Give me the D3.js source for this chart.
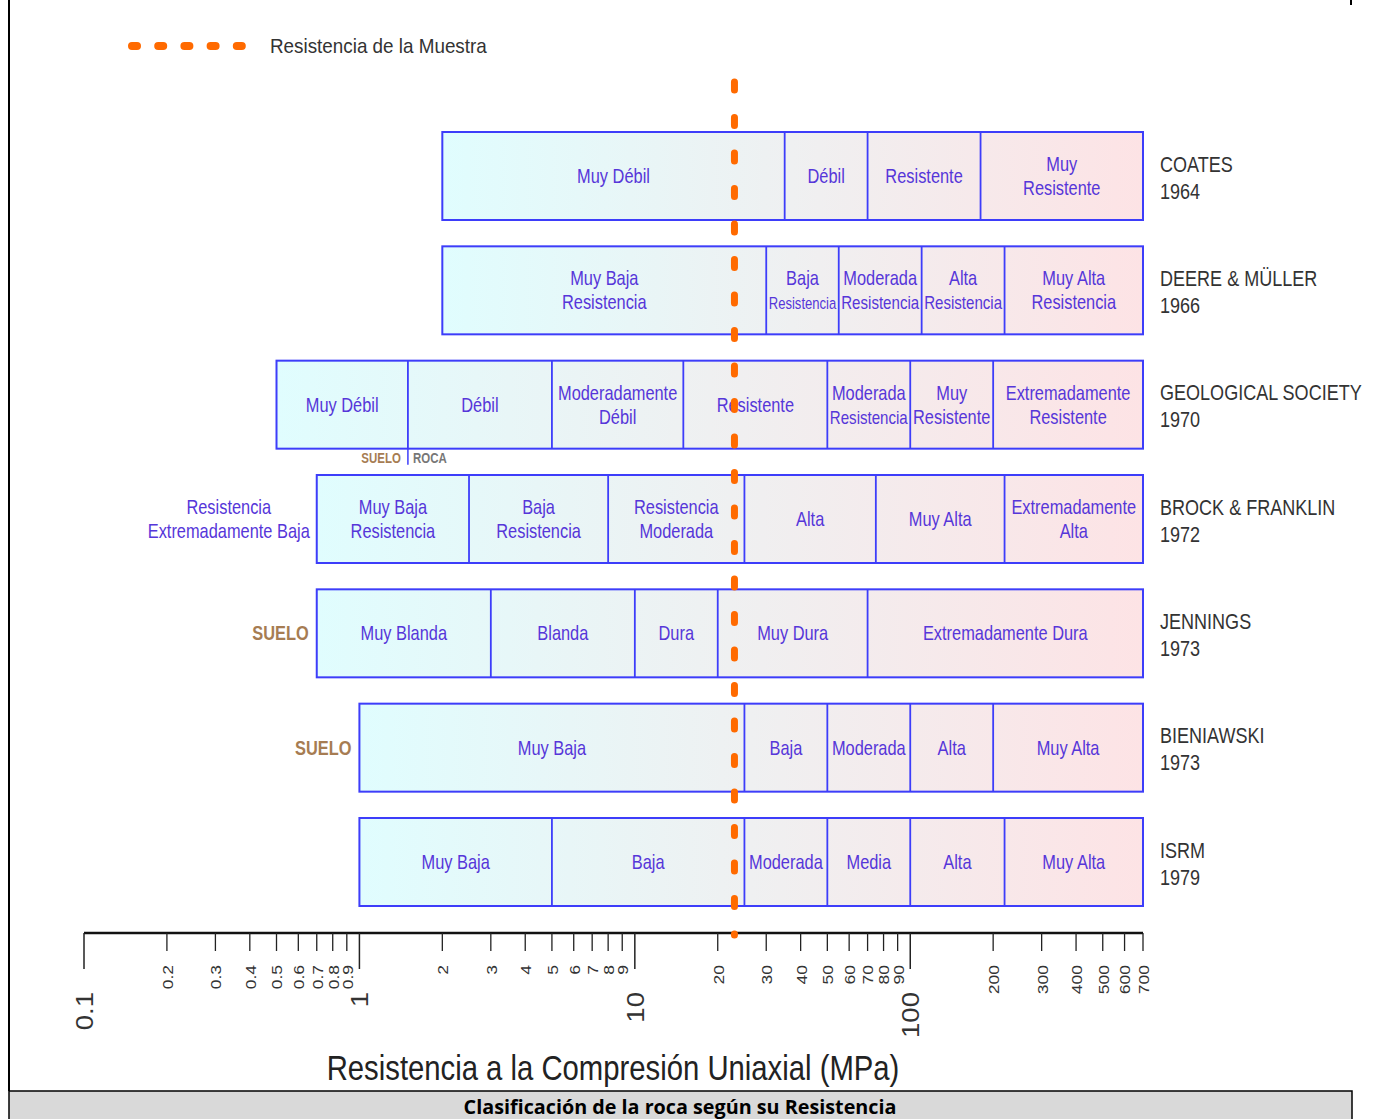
<!DOCTYPE html>
<html>
<head>
<meta charset="utf-8">
<script src="https://cdn.jsdelivr.net/npm/d3@7"></script>
<style>
  body { margin: 0; background: #fff; }
  svg { display: block; }
</style>
</head>
<body>
<div id="chart"></div>
<script>
// Classification schemes, top to bottom
const schemes = ["COATES", "DEERE & MÜLLER", "GEOLOGICAL SOCIETY", "BROCK & FRANKLIN", "JENNINGS", "BIENIAWSKI", "ISRM"];
const years = ["1964", "1966", "1970", "1972", "1973", "1973", "1979"];

// class limits (MPa) for each scheme
const bounds = [
  [2, 35, 70, 180, 700],
  [2, 30, 55, 110, 220, 700],
  [0.5, 1.5, 5, 15, 50, 100, 200, 700],
  [0.7, 2.5, 8, 25, 75, 220, 700],
  [0.7, 3, 10, 20, 70, 700],
  [1, 25, 50, 100, 200, 700],
  [1, 5, 25, 50, 100, 220, 700]
];

const classNames = [
  ["Muy Débil", "Débil", "Resistente", "Muy\nResistente"],
  ["Muy Baja\nResistencia", "Baja\nResistencia", "Moderada\nResistencia", "Alta\nResistencia", "Muy Alta\nResistencia"],
  ["Muy Débil", "Débil", "Moderadamente\nDébil", "Resistente", "Moderada\nResistencia", "Muy\nResistente", "Extremadamente\nResistente"],
  ["Muy Baja\nResistencia", "Baja\nResistencia", "Resistencia\nModerada", "Alta", "Muy Alta", "Extremadamente\nAlta"],
  ["Muy Blanda", "Blanda", "Dura", "Muy Dura", "Extremadamente Dura"],
  ["Muy Baja", "Baja", "Moderada", "Alta", "Muy Alta"],
  ["Muy Baja", "Baja", "Moderada", "Media", "Alta", "Muy Alta"]
];

// labels left of the boxes
const leftLabels = ["", "", "", "Resistencia\nExtremadamente Baja", "SUELO", "SUELO", ""];
const soilRockLimit = 1.5; // SUELO | ROCA split for Geological Society
const sampleStrength = 23;  // Resistencia de la Muestra

const majorTicks = [0.1, 1, 10, 100];
const minorTicks = [0.2, 0.3, 0.4, 0.5, 0.6, 0.7, 0.8, 0.9, 2, 3, 4, 5, 6, 7, 8, 9,
  20, 30, 40, 50, 60, 70, 80, 90, 200, 300, 400, 500, 600, 700];

const width = 1376;
const height = 1119;
const FONT = "'Liberation Sans', Arial, sans-serif";
const NARROW = 0.82; // squeeze to look like Arial Narrow

const x = d3.scaleLog().domain([0.1, 700]).range([84, 1143]);
const y = d3.scaleBand().domain(schemes).range([132, 906]).paddingInner(0.2303).paddingOuter(0);

const boxStroke = "#3d3dfa";
const labelColor = "#5636d9";
const soilColor = "#a67c52";

const svg = d3.select("#chart").append("svg")
  .attr("width", width)
  .attr("height", height)
  .style("font-family", FONT);

const defs = svg.append("defs");

// one gradient per row
schemes.forEach((s, i) => {
  const b = bounds[i];
  const g = defs.append("linearGradient")
    .attr("id", "grad" + i)
    .attr("gradientUnits", "userSpaceOnUse")
    .attr("x1", x(b[0])).attr("x2", x(b[b.length - 1]))
    .attr("y1", 0).attr("y2", 0);
  g.append("stop").attr("offset", 0).attr("stop-color", "#e0fdfe");
  g.append("stop").attr("offset", 0.5).attr("stop-color", "#eff0f1");
  g.append("stop").attr("offset", 1).attr("stop-color", "#fde3e5");
});

// page frame
svg.append("line").attr("x1", 9).attr("x2", 9).attr("y1", 0).attr("y2", 1091)
  .attr("stroke", "#000").attr("stroke-width", 2);
svg.append("line").attr("x1", 1351).attr("x2", 1351).attr("y1", 0).attr("y2", 5)
  .attr("stroke", "#000").attr("stroke-width", 2);

// narrow text, possibly on several lines, centred vertically on cy
function ntext(parent, tx, cy, str, size, lh, sx) {
  const t = parent.append("text")
    .attr("transform", `translate(${tx},${cy}) scale(${sx || NARROW},1)`)
    .attr("font-size", size);
  const lines = str.split("\n");
  lines.forEach((l, k) => {
    t.append("tspan")
      .attr("x", 0)
      .attr("dy", k === 0 ? (-(lines.length - 1) / 2 * lh + 0.35 * size) : lh)
      .text(l);
  });
  return t;
}

const rows = svg.append("g");

schemes.forEach((s, i) => {
  const b = bounds[i];
  const y0 = y(s);
  const h = y.bandwidth();
  const cy = y0 + h / 2;
  const row = rows.append("g");

  row.append("rect")
    .attr("x", x(b[0])).attr("y", y0)
    .attr("width", x(b[b.length - 1]) - x(b[0])).attr("height", h)
    .attr("fill", `url(#grad${i})`)
    .attr("stroke", boxStroke).attr("stroke-width", 2);

  row.selectAll("line.div")
    .data(b.slice(1, -1))
    .join("line")
    .attr("class", "div")
    .attr("x1", d => x(d)).attr("x2", d => x(d))
    .attr("y1", y0).attr("y2", y0 + h)
    .attr("stroke", boxStroke).attr("stroke-width", 1.8);

  classNames[i].forEach((name, k) => {
    const xa = x(b[k]);
    const xb = x(b[k + 1]);
    const t = ntext(row, (xa + xb) / 2, cy, name, 20, 24)
      .attr("text-anchor", "middle")
      .attr("fill", labelColor);
    // shrink any line that does not fit in its cell
    t.selectAll("tspan").each(function () {
      const w = this.getComputedTextLength() * NARROW;
      const room = xb - xa - 5;
      if (w > room) d3.select(this).attr("font-size", 20 * room / w);
    });
  });

  if (leftLabels[i]) {
    const isSoil = leftLabels[i] === "SUELO";
    ntext(row, isSoil ? x(b[0]) - 8 : x(b[0]) - 88, cy, leftLabels[i], 20, 24)
      .attr("text-anchor", isSoil ? "end" : "middle")
      .attr("fill", isSoil ? soilColor : labelColor)
      .attr("font-weight", isSoil ? "bold" : null);
  }

  ntext(row, 1160, cy - 12, s, 22, 0).attr("fill", "#333");
  ntext(row, 1160, cy + 15, years[i], 22, 0).attr("fill", "#333");
});

// SUELO | ROCA under the Geological Society row
const geoBottom = y(schemes[2]) + y.bandwidth();
svg.append("line")
  .attr("x1", x(soilRockLimit)).attr("x2", x(soilRockLimit))
  .attr("y1", geoBottom).attr("y2", geoBottom + 16)
  .attr("stroke", boxStroke).attr("stroke-width", 1.5);
ntext(svg, x(soilRockLimit) - 7, geoBottom + 9, "SUELO", 14, 0)
  .attr("text-anchor", "end").attr("font-weight", "bold").attr("fill", soilColor);
ntext(svg, x(soilRockLimit) + 5, geoBottom + 9, "ROCA", 14, 0)
  .attr("font-weight", "bold").attr("fill", "#777");

// axis
const axisY = 933;
svg.append("line").attr("x1", x(0.1)).attr("x2", x(700))
  .attr("y1", axisY).attr("y2", axisY)
  .attr("stroke", "#111").attr("stroke-width", 2.5);

svg.selectAll("line.minor").data(minorTicks).join("line")
  .attr("class", "minor")
  .attr("x1", d => x(d)).attr("x2", d => x(d))
  .attr("y1", axisY).attr("y2", axisY + 18)
  .attr("stroke", "#222").attr("stroke-width", 1.3);
svg.selectAll("line.major").data(majorTicks).join("line")
  .attr("class", "major")
  .attr("x1", d => x(d)).attr("x2", d => x(d))
  .attr("y1", axisY).attr("y2", axisY + 36)
  .attr("stroke", "#222").attr("stroke-width", 1.5);

svg.selectAll("text.minor").data(minorTicks).join("text")
  .attr("class", "minor")
  .attr("transform", d => `translate(${x(d) + 1},${axisY + 32}) rotate(-90) scale(1.25,1)`)
  .attr("dy", "0.35em")
  .attr("text-anchor", "end")
  .attr("font-size", 14).attr("fill", "#333")
  .text(d => d);
svg.selectAll("text.major").data(majorTicks).join("text")
  .attr("class", "major")
  .attr("transform", d => `translate(${x(d) + 1},${axisY + 59}) rotate(-90) scale(1.2,1)`)
  .attr("dy", "0.35em")
  .attr("text-anchor", "end")
  .attr("font-size", 23).attr("fill", "#333")
  .text(d => d);

// fit a single-line text to a target width
function fitText(sel, target) {
  const w = sel.node().getComputedTextLength();
  const m = /translate\(([^)]*)\)/.exec(sel.attr("transform"));
  sel.attr("transform", `translate(${m[1]}) scale(${target / w},1)`);
}

const axisTitle = svg.append("text")
  .attr("transform", "translate(613,1067)")
  .attr("dy", "0.35em")
  .attr("text-anchor", "middle")
  .attr("font-size", 36).attr("fill", "#222")
  .text("Resistencia a la Compresión Uniaxial (MPa)");
fitText(axisTitle, 573);

// sample strength line
svg.append("line")
  .attr("x1", x(sampleStrength)).attr("x2", x(sampleStrength))
  .attr("y1", 82).attr("y2", 935)
  .attr("stroke", "#ff6a00").attr("stroke-width", 7)
  .attr("stroke-linecap", "round")
  .attr("stroke-dasharray", "8,27.5");

// legend
svg.append("line")
  .attr("x1", 132).attr("x2", 245).attr("y1", 46).attr("y2", 46)
  .attr("stroke", "#ff6a00").attr("stroke-width", 8)
  .attr("stroke-linecap", "round")
  .attr("stroke-dasharray", "5,21.2");
const legendText = svg.append("text")
  .attr("transform", "translate(270,46)")
  .attr("dy", "0.35em")
  .attr("font-size", 21).attr("fill", "#333")
  .text("Resistencia de la Muestra");
fitText(legendText, 217);

// caption bar
svg.append("rect")
  .attr("x", 9).attr("y", 1091).attr("width", 1343).attr("height", 30)
  .attr("fill", "#d9d9d9").attr("stroke", "#000").attr("stroke-width", 1.5);
const caption = svg.append("text")
  .attr("transform", "translate(680,1107)")
  .attr("dy", "0.35em")
  .attr("text-anchor", "middle")
  .style("font-family", "'Open Sans', sans-serif")
  .attr("font-size", 19).attr("font-weight", "bold").attr("fill", "#000")
  .text("Clasificación de la roca según su Resistencia");
fitText(caption, 433);
</script>
</body>
</html>
